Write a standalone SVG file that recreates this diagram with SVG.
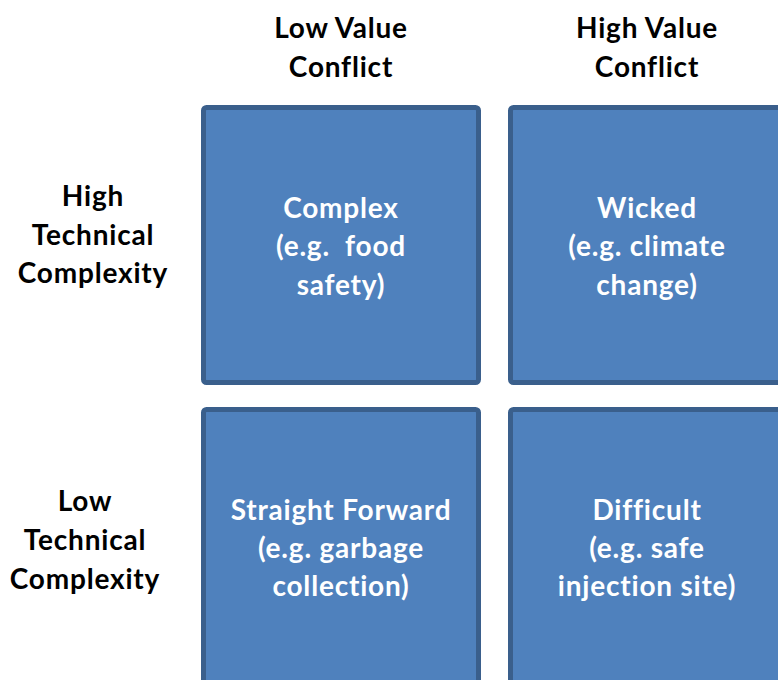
<svg xmlns="http://www.w3.org/2000/svg" width="778" height="680" viewBox="0 0 778 680">
  <style>
    .cell { fill: #4f81bd; stroke: #3a5f8c; stroke-width: 5; }
    text { font-family: Lato, "Open Sans", "Liberation Sans", sans-serif; font-weight: bold; font-size: 28px; letter-spacing: 0.8px; text-anchor: middle; }
    .head { fill: #000000; }
    .inner { fill: #ffffff; }
  </style>
  <rect width="778" height="680" fill="#ffffff"/>

  <g id="col-low">
    <text class="head" x="341" y="38">Low Value</text>
    <text class="head" x="341" y="77">Conflict</text>
  </g>
  <g id="col-high">
    <text class="head" x="647" y="38">High Value</text>
    <text class="head" x="647" y="77">Conflict</text>
  </g>
  <g id="row-high">
    <text class="head" x="93" y="206">High</text>
    <text class="head" x="93" y="245">Technical</text>
    <text class="head" x="93" y="283">Complexity</text>
  </g>
  <g id="row-low">
    <text class="head" x="85" y="511">Low</text>
    <text class="head" x="85" y="550">Technical</text>
    <text class="head" x="85" y="589">Complexity</text>
  </g>

  <g id="complex">
    <rect class="cell" x="203.5" y="107.5" width="275" height="275" rx="3"/>
    <text class="inner" x="341" y="218">Complex</text>
    <text class="inner" x="341" y="256" xml:space="preserve">(e.g.  food</text>
    <text class="inner" x="341" y="295">safety)</text>
  </g>
  <g id="wicked">
    <rect class="cell" x="510.5" y="107.5" width="275" height="275" rx="3"/>
    <text class="inner" x="647" y="218">Wicked</text>
    <text class="inner" x="647" y="256">(e.g. climate</text>
    <text class="inner" x="647" y="295">change)</text>
  </g>
  <g id="straight-forward">
    <rect class="cell" x="203.5" y="409.5" width="275" height="300" rx="3"/>
    <text class="inner" x="341" y="520">Straight Forward</text>
    <text class="inner" x="341" y="558">(e.g. garbage</text>
    <text class="inner" x="341" y="596">collection)</text>
  </g>
  <g id="difficult">
    <rect class="cell" x="510.5" y="409.5" width="275" height="300" rx="3"/>
    <text class="inner" x="647" y="520">Difficult</text>
    <text class="inner" x="647" y="558">(e.g. safe</text>
    <text class="inner" x="647" y="596">injection site)</text>
  </g>
  <g id="connectors"/>
</svg>
